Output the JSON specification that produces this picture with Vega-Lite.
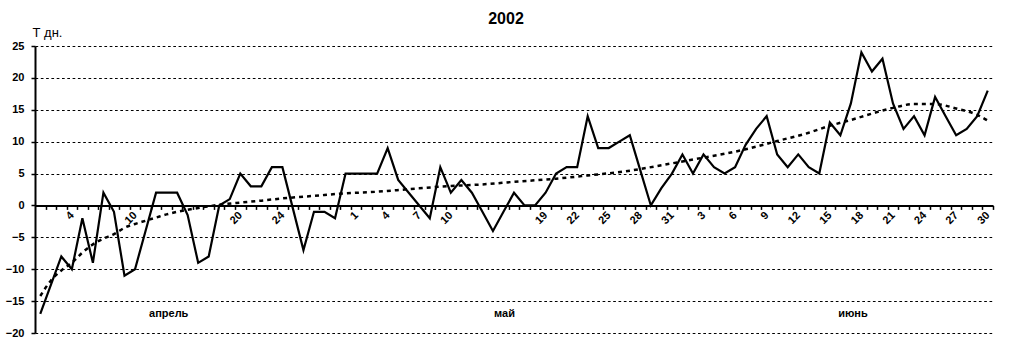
{
  "$schema": "https://vega.github.io/schema/vega-lite/v6.json",
  "width": 958,
  "height": 287,
  "autosize": {"type": "none"},
  "padding": {"left": 35, "top": 46, "right": 17, "bottom": 21},
  "background": "white",
  "title": {"text": "2002", "font": "Liberation Sans", "fontSize": 16, "fontWeight": "bold", "color": "black", "anchor": "middle", "frame": "group", "dx": -8, "offset": -14, "baseline": "alphabetic"},
  "datasets": {
    "temp": [
      {"day": 1, "t": -17}, {"day": 2, "t": -12.5}, {"day": 3, "t": -8}, {"day": 4, "t": -10}, {"day": 5, "t": -2},
      {"day": 6, "t": -9}, {"day": 7, "t": 2}, {"day": 8, "t": -1}, {"day": 9, "t": -11}, {"day": 10, "t": -10},
      {"day": 11, "t": -4}, {"day": 12, "t": 2}, {"day": 13, "t": 2}, {"day": 14, "t": 2}, {"day": 15, "t": -1.5},
      {"day": 16, "t": -9}, {"day": 17, "t": -8}, {"day": 18, "t": 0}, {"day": 19, "t": 1}, {"day": 20, "t": 5},
      {"day": 21, "t": 3}, {"day": 22, "t": 3}, {"day": 23, "t": 6}, {"day": 24, "t": 6}, {"day": 25, "t": -0.5},
      {"day": 26, "t": -7}, {"day": 27, "t": -1}, {"day": 28, "t": -1}, {"day": 29, "t": -2}, {"day": 30, "t": 5},
      {"day": 31, "t": 5}, {"day": 32, "t": 5}, {"day": 33, "t": 5}, {"day": 34, "t": 9}, {"day": 35, "t": 4},
      {"day": 36, "t": 2}, {"day": 37, "t": 0}, {"day": 38, "t": -2}, {"day": 39, "t": 6}, {"day": 40, "t": 2},
      {"day": 41, "t": 4}, {"day": 42, "t": 2}, {"day": 43, "t": -1}, {"day": 44, "t": -4}, {"day": 45, "t": -1},
      {"day": 46, "t": 2}, {"day": 47, "t": 0}, {"day": 48, "t": 0}, {"day": 49, "t": 2}, {"day": 50, "t": 5},
      {"day": 51, "t": 6}, {"day": 52, "t": 6}, {"day": 53, "t": 14}, {"day": 54, "t": 9}, {"day": 55, "t": 9},
      {"day": 56, "t": 10}, {"day": 57, "t": 11}, {"day": 58, "t": 5.5}, {"day": 59, "t": 0}, {"day": 60, "t": 2.7},
      {"day": 61, "t": 5}, {"day": 62, "t": 8}, {"day": 63, "t": 5}, {"day": 64, "t": 8}, {"day": 65, "t": 6},
      {"day": 66, "t": 5}, {"day": 67, "t": 6}, {"day": 68, "t": 9.5}, {"day": 69, "t": 12}, {"day": 70, "t": 14},
      {"day": 71, "t": 8}, {"day": 72, "t": 6}, {"day": 73, "t": 8}, {"day": 74, "t": 6}, {"day": 75, "t": 5},
      {"day": 76, "t": 13}, {"day": 77, "t": 11}, {"day": 78, "t": 16}, {"day": 79, "t": 24}, {"day": 80, "t": 21},
      {"day": 81, "t": 23}, {"day": 82, "t": 16}, {"day": 83, "t": 12}, {"day": 84, "t": 14}, {"day": 85, "t": 11},
      {"day": 86, "t": 17}, {"day": 87, "t": 14}, {"day": 88, "t": 11}, {"day": 89, "t": 12}, {"day": 90, "t": 14},
      {"day": 91, "t": 18}
    ],
    "trend": [
      {"day": 1, "t": -14.2}, {"day": 2, "t": -11.8}, {"day": 3, "t": -10.2}, {"day": 4, "t": -9.0}, {"day": 5, "t": -7.4},
      {"day": 6, "t": -6.1}, {"day": 7, "t": -5.2}, {"day": 8, "t": -4.5}, {"day": 9, "t": -3.5}, {"day": 10, "t": -2.9},
      {"day": 11, "t": -2.4}, {"day": 12, "t": -1.9}, {"day": 13, "t": -1.4}, {"day": 14, "t": -1.0}, {"day": 16, "t": -0.4},
      {"day": 18, "t": 0.1}, {"day": 20, "t": 0.45}, {"day": 22, "t": 0.75}, {"day": 24, "t": 1.1}, {"day": 27, "t": 1.5},
      {"day": 30, "t": 1.9}, {"day": 33, "t": 2.15}, {"day": 36, "t": 2.55}, {"day": 40, "t": 3.05}, {"day": 43, "t": 3.3},
      {"day": 46, "t": 3.7}, {"day": 50, "t": 4.2}, {"day": 53, "t": 4.7}, {"day": 57, "t": 5.45}, {"day": 60, "t": 6.3},
      {"day": 63, "t": 7.2}, {"day": 66, "t": 8.1}, {"day": 68, "t": 8.8}, {"day": 71, "t": 10.1}, {"day": 74, "t": 11.4},
      {"day": 76, "t": 12.5}, {"day": 78, "t": 13.4}, {"day": 80, "t": 14.4}, {"day": 82, "t": 15.3}, {"day": 84, "t": 15.9},
      {"day": 86, "t": 15.9}, {"day": 88, "t": 15.2}, {"day": 90, "t": 14.2}, {"day": 91, "t": 13.3}
    ],
    "months": [
      {"day": 13.2, "t": -17, "label": "апрель"},
      {"day": 45.1, "t": -17, "label": "май"},
      {"day": 78.2, "t": -17, "label": "июнь"}
    ]
  },
  "encoding": {
    "x": {
      "field": "day",
      "type": "quantitative",
      "scale": {"domain": [0.5, 91.5], "nice": false, "zero": false},
      "axis": {
        "title": null,
        "orient": "bottom",
        "offset": -127.6,
        "grid": false,
        "domain": true,
        "domainColor": "black",
        "domainWidth": 2,
        "ticks": true,
        "tickColor": "black",
        "tickSize": 4,
        "tickWidth": 1.5,
        "tickOffset": 5.265,
        "labelOffset": -5.265,
        "values": [1,2,3,4,5,6,7,8,9,10,11,12,13,14,15,16,17,18,19,20,21,22,23,24,25,26,27,28,29,30,31,32,33,34,35,36,37,38,39,40,41,42,43,44,45,46,47,48,49,50,51,52,53,54,55,56,57,58,59,60,61,62,63,64,65,66,67,68,69,70,71,72,73,74,75,76,77,78,79,80,81,82,83,84,85,86,87,88,89,90,91],
        "labelExpr": "(datum.value == 4 || datum.value == 10 || datum.value == 20 || datum.value == 24 || (datum.value >= 31 && (datum.value - 31) % 3 == 0 && datum.value != 43 && datum.value != 46)) ? '' + (datum.value <= 30 ? datum.value : (datum.value <= 61 ? datum.value - 30 : datum.value - 61)) : ''",
        "labelAngle": -45,
        "labelAlign": "right",
        "labelBaseline": "middle",
        "labelPadding": 4,
        "labelFont": "Liberation Sans",
        "labelFontSize": 11,
        "labelFontWeight": "bold",
        "labelColor": "black",
        "labelOverlap": false,
        "labelFlush": false,
        "labelBound": false
      }
    },
    "y": {
      "field": "t",
      "type": "quantitative",
      "scale": {"domain": [-20, 25], "nice": false, "zero": false},
      "axis": {
        "title": "Т дн.",
        "titleAngle": 0,
        "titleAlign": "left",
        "titleBaseline": "alphabetic",
        "titleX": -3,
        "titleY": -10,
        "titleFont": "Liberation Sans",
        "titleFontSize": 13,
        "titleFontWeight": "normal",
        "titleColor": "black",
        "values": [-20, -15, -10, -5, 0, 5, 10, 15, 20, 25],
        "grid": true,
        "gridColor": "black",
        "gridDash": [2.7, 2.6],
        "gridWidth": 1,
        "gridOpacity": 1,
        "domain": true,
        "domainColor": "black",
        "domainWidth": 2,
        "ticks": true,
        "tickColor": "black",
        "tickSize": 4,
        "tickWidth": 1.5,
        "labelPadding": 7,
        "labelFont": "Liberation Sans",
        "labelFontSize": 11,
        "labelFontWeight": "bold",
        "labelColor": "black",
        "labelOverlap": false,
        "labelFlush": false
      }
    }
  },
  "layer": [
    {
      "data": {"name": "temp"},
      "mark": {"type": "line", "color": "black", "strokeWidth": 2.2}
    },
    {
      "data": {"name": "trend"},
      "mark": {"type": "line", "color": "black", "strokeWidth": 2.5, "strokeDash": [4, 4], "interpolate": "monotone"}
    },
    {
      "data": {"name": "months"},
      "mark": {"type": "text", "font": "Liberation Sans", "fontSize": 11, "fontWeight": "bold", "color": "black", "align": "center", "baseline": "middle"},
      "encoding": {"text": {"field": "label", "type": "nominal"}}
    }
  ],
  "config": {"view": {"stroke": null}}
}
